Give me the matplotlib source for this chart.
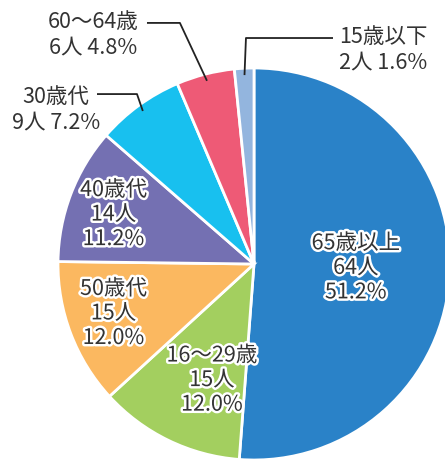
import matplotlib
matplotlib.use('Agg')
import matplotlib.pyplot as plt
import matplotlib.patheffects as pe
import numpy as np

plt.rcParams['font.family'] = ['Noto Sans CJK JP', 'DejaVu Sans']

# data
categories = ['65歳以上', '16〜29歳', '50歳代', '40歳代', '30歳代', '60〜64歳', '15歳以下']
counts = [64, 15, 15, 14, 9, 6, 2]
percents = [51.2, 12.0, 12.0, 11.2, 7.2, 4.8, 1.6]
colors = ['#2a82c8', '#a3cf5f', '#fbb860', '#7470b2', '#18c0ef', '#ee5a76', '#93b5de']

TEXT = '#333333'

fig = plt.figure(figsize=(4.45, 4.59), dpi=100)
ax = fig.add_axes([0, 0, 1, 1])

wedges, _ = ax.pie(counts, colors=colors, startangle=90, counterclock=False,
                   radius=1.0, wedgeprops=dict(edgecolor='white', linewidth=2))

# view window: pie center sits at (254, 264) px, radius ~196 px
scale = 196.0
ax.set_xlim(-254 / scale, (445 - 254) / scale)
ax.set_ylim(-(459 - 264) / scale, 264 / scale)
ax.set_aspect('equal')
ax.axis('off')

def mid_angle(w):
    return np.deg2rad((w.theta1 + w.theta2) / 2)

# labels drawn inside the wedges (radius, angle tweak in deg)
inside = {0: (0.52, 0), 1: (0.63, 6), 2: (0.76, -1.5), 3: (0.76, 1.5)}
stroke = [pe.withStroke(linewidth=3.5, foreground='white')]
for i, (r, dt) in inside.items():
    a = mid_angle(wedges[i]) + np.deg2rad(dt)
    ax.text(r * np.cos(a), r * np.sin(a),
            f'{categories[i]}\n{counts[i]}人\n{percents[i]:.1f}%',
            ha='center', va='center', fontsize=15.5, color=TEXT,
            linespacing=1.15, path_effects=stroke)

# labels with leader lines: (elbow xy, line end x, text center xy)
outside = {
    4: ((-0.597, 0.867), -0.801, (-1.01, 0.786)),
    5: ((-0.378, 1.230), -0.546, (-0.82, 1.168)),
    6: ((-0.041, 1.153), 0.403, (0.66, 1.092)),
}
for i, (elbow, xend, txy) in outside.items():
    a = mid_angle(wedges[i])
    anchor = (0.965 * np.cos(a), 0.965 * np.sin(a))
    ax.plot([anchor[0], elbow[0], xend], [anchor[1], elbow[1], elbow[1]],
            color='#222222', lw=1.3, solid_capstyle='butt')
    ax.text(txy[0], txy[1], f'{categories[i]}\n{counts[i]}人 {percents[i]:.1f}%',
            ha='center', va='center', multialignment='center',
            fontsize=15.5, color=TEXT, linespacing=1.2)

fig.savefig('out.png', dpi=100, facecolor='white')
